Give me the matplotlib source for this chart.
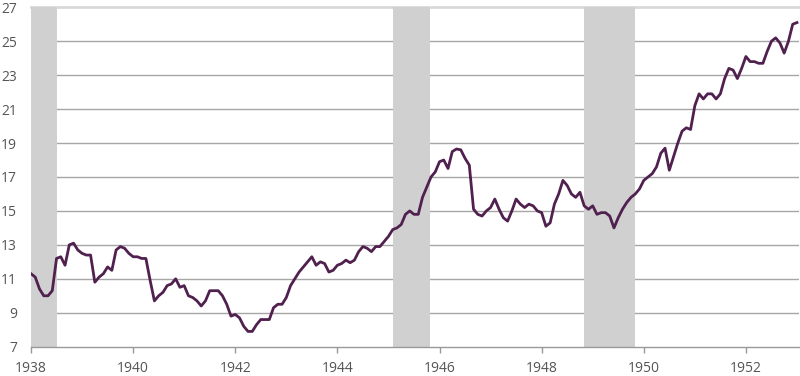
import numpy as np
import matplotlib.pyplot as plt

# monthly values, Jan 1938 .. Jan 1953
values = [
    11.3, 11.1, 10.4, 10.0, 10.0, 10.3, 12.2, 12.3, 11.8, 13.0, 13.1, 12.7,  # 1938
    12.5, 12.4, 12.4, 10.8, 11.1, 11.3, 11.7, 11.5, 12.7, 12.9, 12.8, 12.5,  # 1939
    12.3, 12.3, 12.2, 12.2, 10.9, 9.7, 10.0, 10.2, 10.6, 10.7, 11.0, 10.5,   # 1940
    10.6, 10.0, 9.9, 9.7, 9.4, 9.7, 10.3, 10.3, 10.3, 10.0, 9.5, 8.8,        # 1941
    8.9, 8.7, 8.2, 7.9, 7.9, 8.3, 8.6, 8.6, 8.6, 9.3, 9.5, 9.5,              # 1942
    9.9, 10.6, 11.0, 11.4, 11.7, 12.0, 12.3, 11.8, 12.0, 11.9, 11.4, 11.5,   # 1943
    11.8, 11.9, 12.1, 11.95, 12.1, 12.6, 12.9, 12.8, 12.6, 12.9, 12.9, 13.2, # 1944
    13.5, 13.9, 14.0, 14.2, 14.8, 15.0, 14.8, 14.8, 15.8, 16.4, 17.0, 17.3,  # 1945
    17.9, 18.0, 17.5, 18.5, 18.65, 18.6, 18.1, 17.7, 15.1, 14.8, 14.7, 15.0, # 1946
    15.2, 15.7, 15.1, 14.6, 14.4, 15.0, 15.7, 15.4, 15.2, 15.4, 15.3, 15.0,  # 1947
    14.9, 14.1, 14.3, 15.4, 16.0, 16.8, 16.5, 16.0, 15.8, 16.1, 15.3, 15.1,  # 1948
    15.3, 14.8, 14.9, 14.9, 14.7, 14.0, 14.6, 15.1, 15.5, 15.8, 16.0, 16.3,  # 1949
    16.8, 17.0, 17.2, 17.6, 18.4, 18.7, 17.4, 18.2, 19.0, 19.7, 19.9, 19.8,  # 1950
    21.2, 21.9, 21.6, 21.9, 21.9, 21.6, 21.9, 22.8, 23.4, 23.3, 22.8, 23.4,  # 1951
    24.1, 23.8, 23.8, 23.7, 23.7, 24.4, 25.0, 25.2, 24.9, 24.3, 25.0, 26.0,  # 1952
    26.1,                                                                    # 1953
]
start_year = 1938
recessions = [(1938.0, 1938.5), (1945.08, 1945.82), (1948.82, 1949.82)]
y_ticks = list(range(7, 28, 2))
x_ticks = list(range(1938, 1953, 2))

t = start_year + np.arange(len(values)) / 12

fig = plt.figure(figsize=(8, 3.76), dpi=100)
ax = fig.add_axes([31 / 800, 29.3 / 376, 768 / 800, 339.4 / 376])

for a, b in recessions:
    ax.axvspan(a, b, color="#d0d0d0", lw=0, zorder=1)

for y in y_ticks[1:-1]:
    ax.axhline(y, color="#a6a6a6", lw=1.0, zorder=0)
ax.axhline(27, color="#d9d9d9", lw=2.0, zorder=0, clip_on=False)

ax.plot(t, values, color="#50204f", lw=2.0, zorder=3, solid_joinstyle="round")

ax.set_xlim(1938, 1953.04)
ax.set_ylim(7, 27)
ax.set_yticks(y_ticks)
ax.set_xticks(x_ticks)

for s in ["top", "right", "left"]:
    ax.spines[s].set_visible(False)
ax.spines["bottom"].set_color("#999999")
ax.spines["bottom"].set_linewidth(1.0)

ax.tick_params(axis="y", length=0, pad=10, labelsize=10, labelcolor="#555555")
ax.tick_params(axis="x", length=4, width=1, color="#999999", pad=6,
               labelsize=10, labelcolor="#555555")
for lab in ax.get_xticklabels() + ax.get_yticklabels():
    lab.set_family("Open Sans")

fig.savefig("out.png", dpi=100)
